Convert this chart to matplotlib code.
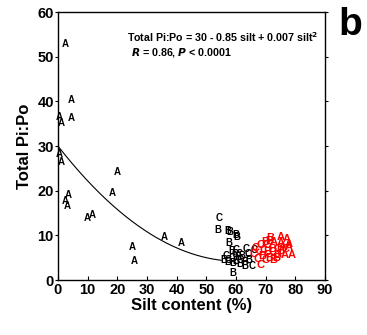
import numpy as np
import matplotlib.pyplot as plt

plt.rcParams['font.family'] = ['Liberation Sans', 'DejaVu Sans']
plt.rcParams['font.weight'] = 'bold'

# black points: silt %, Pi:Po, letter
blk_x = [2.6, 4.4, 4.6, 0.3, 1.2, 0.3, 1.1, 19.9, 18.2, 3.6, 2.4, 3.0, 10.0, 11.6,
         25.0, 25.8, 35.8, 41.4,
         54.4, 53.8, 57.3, 58.0, 59.8, 60.3, 57.7, 58.6, 60.0, 63.4, 66.2, 56.6,
         55.8, 57.3, 57.3, 61.4, 62.9, 65.4, 58.8, 61.0, 62.1, 64.1, 60.5, 59.6,
         64.3, 58.5, 60.0, 61.5, 63.0, 59.0]
blk_y = [52.9, 40.3, 36.2, 36.4, 35.1, 28.3, 26.4, 24.1, 19.4, 19.1, 17.8, 16.5, 13.9, 14.6,
         7.5, 4.2, 9.6, 8.4,
         13.9, 11.3, 11.0, 10.7, 10.2, 9.6, 8.4, 6.6, 6.7, 6.9, 6.7, 5.4,
         4.5, 4.5, 4.0, 3.7, 3.2, 3.2, 1.5, 5.8, 5.4, 5.8, 5.1, 5.8,
         4.6, 5.0, 4.2, 4.4, 4.1, 3.9]
blk_lab = ['A'] * 18 + ['C', 'B', 'B', 'B', 'B', 'B', 'B', 'B', 'C', 'C', 'C', 'C',
                        'B', 'C', 'B', 'B', 'B', 'C', 'B', 'C', 'B', 'C', 'B', 'C',
                        'B', 'C', 'B', 'C', 'B', 'B']

# red points
red_x = [74.9, 77.2, 77.7, 76.4, 78.6, 73.5, 71.2, 68.2, 67.1, 66.5, 68.2, 69.9,
         71.0, 72.7, 69.3, 72.2, 73.9, 75.6, 70.4, 72.2, 74.9, 77.7, 68.8, 69.9,
         72.5, 67.6, 71.6, 70.4, 73.9, 76.6, 66.0, 75.0]
red_y = [9.6, 9.3, 8.0, 5.6, 5.6, 5.0, 4.9, 3.4, 4.7, 7.2, 7.8, 8.6,
         8.8, 8.6, 6.7, 7.0, 7.0, 7.4, 6.2, 6.2, 6.5, 7.3, 5.4, 4.6,
         4.6, 6.5, 9.5, 7.8, 5.7, 7.0, 5.8, 8.4]
red_lab = ['A', 'A', 'A', 'A', 'A', 'B', 'B', 'C', 'C', 'C', 'C', 'B',
           'B', 'A', 'C', 'B', 'C', 'A', 'B', 'C', 'B', 'A', 'B', 'C',
           'B', 'C', 'B', 'C', 'B', 'C', 'C', 'A']

# fitted quadratic: Pi:Po = 30 - 0.85 silt + 0.007 silt^2
coef = [30, -0.85, 0.007]
fit_range = [0, 55]

fig = plt.figure(figsize=(3.67, 3.35), dpi=100)
ax = fig.add_axes([0.158, 0.164, 0.728, 0.8])

for x, y, s in zip(blk_x, blk_y, blk_lab):
    ax.text(x, y, s, color='black', fontsize=7, fontweight='bold', ha='center', va='center')
for x, y, s in zip(red_x, red_y, red_lab):
    ax.text(x, y, s, color='red', fontsize=8, fontweight='bold', ha='center', va='center')

xs = np.linspace(fit_range[0], fit_range[1], 200)
ax.plot(xs, coef[0] + coef[1] * xs + coef[2] * xs ** 2, color='black', lw=0.8)

ax.set_xlim(0, 90)
ax.set_ylim(0, 60)
ax.set_xticks(range(0, 91, 10))
ax.set_yticks(range(0, 61, 10))
ax.tick_params(axis='x', direction='in', length=3, labelsize=10.5, pad=2)
ax.tick_params(axis='y', direction='out', length=2, labelsize=10.5, pad=1)
ax.tick_params(axis='y', which='both', right=True)
for lab in ax.get_xticklabels() + ax.get_yticklabels():
    lab.set_fontweight('bold')
for sp in ax.spines.values():
    sp.set_linewidth(1)

ax.set_xlabel('Silt content (%)', fontsize=12, fontweight='bold', labelpad=1)
ax.set_ylabel('Total Pi:Po', fontsize=12, fontweight='bold', labelpad=4)

ax.text(0.975, 0.905, 'Total Pi:Po = 30 - 0.85 silt + 0.007 silt$^\\mathbf{2}$',
        transform=ax.transAxes, ha='right', va='center', fontsize=7.7, fontweight='bold')
ax.text(0.275, 0.85, '$\\mathbfit{R}$ = 0.86, $\\mathbfit{P}$ < 0.0001',
        transform=ax.transAxes, ha='left', va='center', fontsize=7.7, fontweight='bold')

fig.text(0.955, 0.925, 'b', fontsize=28, fontweight='bold', ha='center', va='center')

fig.savefig('out.png', dpi=100)
